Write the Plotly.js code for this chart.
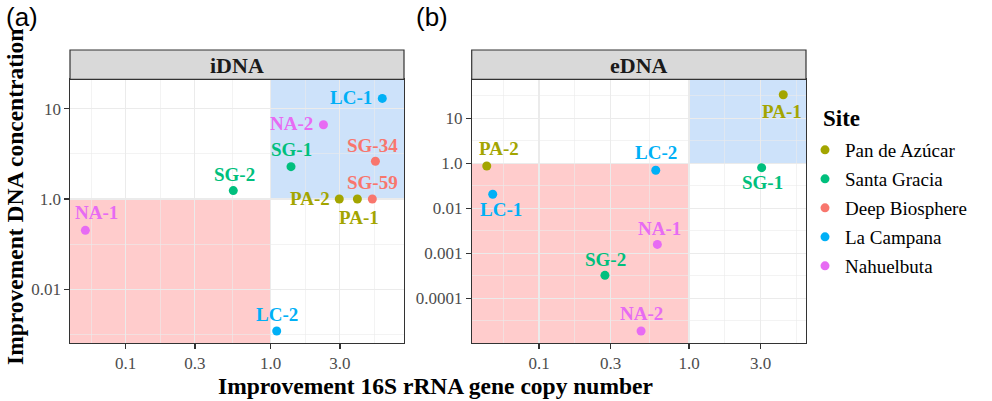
<!DOCTYPE html>
<html>
<head>
<meta charset="utf-8">
<script src="https://cdn.plot.ly/plotly-3.0.1.min.js"></script>
<style>html,body{margin:0;padding:0;background:#fff;}#chart{width:992px;height:401px;}</style>
</head>
<body>
<div id="chart"></div>
<script>
// ---------------- DATA ----------------
const sites = ['Pan de Azúcar', 'Santa Gracia', 'Deep Biosphere', 'La Campana', 'Nahuelbuta'];

// iDNA panel
const iSample = ['LC-1', 'NA-2', 'SG-1', 'SG-34', 'SG-2', 'PA-2', 'PA-1', 'SG-59', 'NA-1', 'LC-2'];
const iSite = ['La Campana', 'Nahuelbuta', 'Santa Gracia', 'Deep Biosphere', 'Santa Gracia',
               'Pan de Azúcar', 'Pan de Azúcar', 'Deep Biosphere', 'Nahuelbuta', 'La Campana'];
const iGene = [5.88, 2.31, 1.38, 5.27, 0.552, 2.97, 3.96, 5.02, 0.0527, 1.10];
const iConc = [13.0, 6.65, 2.28, 2.62, 1.24, 1.0, 1.0, 1.0, 0.45, 0.0345];

// eDNA panel
const eSample = ['PA-1', 'PA-2', 'LC-2', 'SG-1', 'LC-1', 'NA-1', 'SG-2', 'NA-2'];
const eSite = ['Pan de Azúcar', 'Pan de Azúcar', 'La Campana', 'Santa Gracia', 'La Campana',
               'Nahuelbuta', 'Santa Gracia', 'Nahuelbuta'];
const eGene = [4.25, 0.0448, 0.60, 3.05, 0.0491, 0.615, 0.275, 0.479];
const eConc = [33.4, 0.87, 0.70, 0.80, 0.205, 0.0158, 0.00324, 0.000188];

// tick labels
const xTickVals = [0.1, 0.3, 1, 3];
const xTickText = ['0.1', '0.3', '1.0', '3.0'];
const iYTickVals = [10, 1, 0.1];
const iYTickText = ['10', '1.0', '0.01'];
const eYTickVals = [10, 1, 0.1, 0.01, 0.001];
const eYTickText = ['10', '1.0', '0.01', '0.001', '0.0001'];
const panelTitles = ['iDNA', 'eDNA'];
const legendTitle = 'Site';

// ---------------- STYLE ----------------
const W = 992, H = 401;
const colors = {
  'Pan de Azúcar': '#A3A500',
  'Santa Gracia': '#00BF7D',
  'Deep Biosphere': '#F8766D',
  'La Campana': '#00B0F6',
  'Nahuelbuta': '#E76BF3'
};
const serif = 'Liberation Serif, Times New Roman, serif';
const sans = 'Liberation Sans, Arial, sans-serif';

// label placement: [xanchor, dx px, dy px (screen, down positive)]
const labelPlace = {
  iDNA: {
    'LC-1': ['right', -8, 0], 'NA-2': ['right', -8, 0], 'SG-1': ['center', 0, -16],
    'SG-34': ['center', -2.5, -15], 'SG-2': ['center', 1, -15.5], 'PA-2': ['right', -7, 0],
    'PA-1': ['center', 2, 19.5], 'SG-59': ['center', 0.5, -16], 'NA-1': ['center', 11.4, -16.5],
    'LC-2': ['center', 0, -16]
  },
  eDNA: {
    'PA-1': ['center', -0.8, 17.5], 'PA-2': ['center', 12.6, -17], 'LC-2': ['center', 0, -17],
    'SG-1': ['center', 0.8, 16], 'LC-1': ['center', 7.8, 16], 'NA-1': ['center', 1.9, -14.5],
    'SG-2': ['center', 0.2, -15], 'NA-2': ['center', 0, -16]
  }
};

// panel geometry (pixels)
const px = (v) => v / W, py = (v) => 1 - v / H;
const xDom1 = [px(70), px(404)];
const xDom2 = [px(471.7), px(806)];
const yDom = [py(343), py(79.3)];
const stripTop = py(50);

const xRange1 = [-1.384, 0.919];
const xRange2 = [-1.449, 0.780];
const yRange1 = [-1.595, 1.326];
const yRange2 = [-3.993, 1.867];

const xMinor = [0.0577, 0.1732, 0.5477, 1.732, 5.196];
const iYMinor = [3.162, 0.3162, 0.03162];
const eYMinor = [31.62, 3.162, 0.3162, 0.03162, 0.003162, 0.0003162];

const gridCol = '#EBEBEB';
const borderCol = '#333333';

function xAxis(dom, rng, anchor) {
  return {
    type: 'log', domain: dom, range: rng, anchor: anchor,
    tickmode: 'array', tickvals: xTickVals, ticktext: xTickText,
    ticks: 'outside', ticklen: 4.5, tickwidth: 1.3, tickcolor: borderCol,
    tickfont: {family: serif, size: 17, color: '#4D4D4D'},
    showgrid: true, gridcolor: gridCol, gridwidth: 1.1,
    minor: {tickmode: 'array', tickvals: xMinor, showgrid: true, gridcolor: gridCol, gridwidth: 0.6, ticks: ''},
    showline: true, mirror: true, linecolor: borderCol, linewidth: 1.2,
    zeroline: false, fixedrange: true
  };
}
function yAxis(rng, tv, tt, minor, anchor) {
  return {
    type: 'log', domain: yDom, range: rng, anchor: anchor,
    tickmode: 'array', tickvals: tv, ticktext: tt,
    ticks: 'outside', ticklen: 4.5, tickwidth: 1.3, tickcolor: borderCol,
    tickfont: {family: serif, size: 17, color: '#4D4D4D'},
    showgrid: true, gridcolor: gridCol, gridwidth: 1.1,
    minor: {tickmode: 'array', tickvals: minor, showgrid: true, gridcolor: gridCol, gridwidth: 0.6, ticks: ''},
    showline: true, mirror: true, linecolor: borderCol, linewidth: 1.2,
    zeroline: false, fixedrange: true
  };
}

// ---------------- TRACES ----------------
const traces = [];
const annotations = [];
const shown = {};
function addPanel(name, sample, site, gene, conc, xa, ya) {
  sites.forEach(s => {
    const idx = site.map((v, i) => v === s ? i : -1).filter(i => i >= 0);
    if (!idx.length) return;
    traces.push({
      type: 'scatter', mode: 'markers', name: s, legendgroup: s,
      showlegend: !shown[s],
      x: idx.map(i => gene[i]), y: idx.map(i => conc[i]),
      xaxis: xa, yaxis: ya,
      marker: {color: colors[s], size: 9},
      cliponaxis: false, hoverinfo: 'skip'
    });
    shown[s] = true;
  });
  sample.forEach((lab, i) => {
    const p = labelPlace[name][lab];
    annotations.push({
      xref: xa, yref: ya, x: Math.log10(gene[i]), y: Math.log10(conc[i]),
      text: lab, showarrow: false, xanchor: p[0], yanchor: 'middle',
      xshift: p[1], yshift: -p[2] + 1,
      font: {family: serif, size: 19, weight: 'bold', color: colors[site[i]]}
    });
  });
}
addPanel('iDNA', iSample, iSite, iGene, iConc, 'x', 'y');
addPanel('eDNA', eSample, eSite, eGene, eConc, 'x2', 'y2');

// ---------------- SHAPES ----------------
// (shape coordinates on log axes are data values in Plotly v3)
const shapes = [];
function shade(xref, yref, xr, yr) {
  const xlo = Math.pow(10, xr[0]), xhi = Math.pow(10, xr[1]);
  const ylo = Math.pow(10, yr[0]), yhi = Math.pow(10, yr[1]);
  shapes.push({type: 'rect', xref: xref, yref: yref, x0: 1, x1: xhi, y0: 1, y1: yhi,
    fillcolor: '#CDE2FA', line: {width: 0}, layer: 'below'});
  shapes.push({type: 'rect', xref: xref, yref: yref, x0: xlo, x1: 1, y0: ylo, y1: 1,
    fillcolor: '#FFCCCC', line: {width: 0}, layer: 'below'});
}
shade('x', 'y', xRange1, yRange1);
shade('x2', 'y2', xRange2, yRange2);
[xDom1, xDom2].forEach((d, k) => {
  shapes.push({type: 'rect', xref: 'paper', yref: 'paper', x0: d[0], x1: d[1], y0: yDom[1], y1: stripTop,
    fillcolor: '#D9D9D9', line: {color: borderCol, width: 1.2}, layer: 'above'});
  annotations.push({xref: 'paper', yref: 'paper', x: (d[0] + d[1]) / 2, y: py(65),
    text: panelTitles[k], showarrow: false, xanchor: 'center', yanchor: 'middle',
    font: {family: serif, size: 22, weight: 'bold', color: '#1A1A1A'}});
});

// titles and panel tags
annotations.push({xref: 'paper', yref: 'paper', x: px(435), y: py(386),
  text: 'Improvement 16S rRNA gene copy number', showarrow: false, xanchor: 'center', yanchor: 'middle',
  font: {family: serif, size: 23.5, weight: 'bold', color: '#000'}});
annotations.push({xref: 'paper', yref: 'paper', x: px(15), y: py(197),
  text: 'Improvement DNA concentration', showarrow: false, textangle: -90, xanchor: 'center', yanchor: 'middle',
  font: {family: serif, size: 23.5, weight: 'bold', color: '#000'}});
annotations.push({xref: 'paper', yref: 'paper', x: px(4), y: py(17),
  text: '(a)', showarrow: false, xanchor: 'left', yanchor: 'middle',
  font: {family: sans, size: 26, color: '#000'}});
annotations.push({xref: 'paper', yref: 'paper', x: px(414), y: py(17),
  text: '(b)', showarrow: false, xanchor: 'left', yanchor: 'middle',
  font: {family: sans, size: 26, color: '#000'}});
// legend title
annotations.push({xref: 'paper', yref: 'paper', x: px(821), y: py(118),
  text: legendTitle, showarrow: false, xanchor: 'left', yanchor: 'middle',
  font: {family: serif, size: 23, weight: 'bold', color: '#000'}});

const layout = {
  width: W, height: H,
  margin: {l: 0, r: 0, t: 0, b: 0},
  paper_bgcolor: '#fff', plot_bgcolor: '#fff',
  xaxis: xAxis(xDom1, xRange1, 'y'),
  yaxis: yAxis(yRange1, iYTickVals, iYTickText, iYMinor, 'x'),
  xaxis2: xAxis(xDom2, xRange2, 'y2'),
  yaxis2: yAxis(yRange2, eYTickVals, eYTickText, eYMinor, 'x2'),
  shapes: shapes,
  annotations: annotations,
  showlegend: true,
  legend: {
    x: px(805), xanchor: 'left', y: py(131), yanchor: 'top',
    bgcolor: 'rgba(0,0,0,0)', borderwidth: 0,
    font: {family: serif, size: 19, color: '#000'},
    tracegroupgap: 1.3, itemwidth: 30
  },
  hovermode: false
};

Plotly.newPlot('chart', traces, layout, {staticPlot: true, displayModeBar: false});
</script>
</body>
</html>
